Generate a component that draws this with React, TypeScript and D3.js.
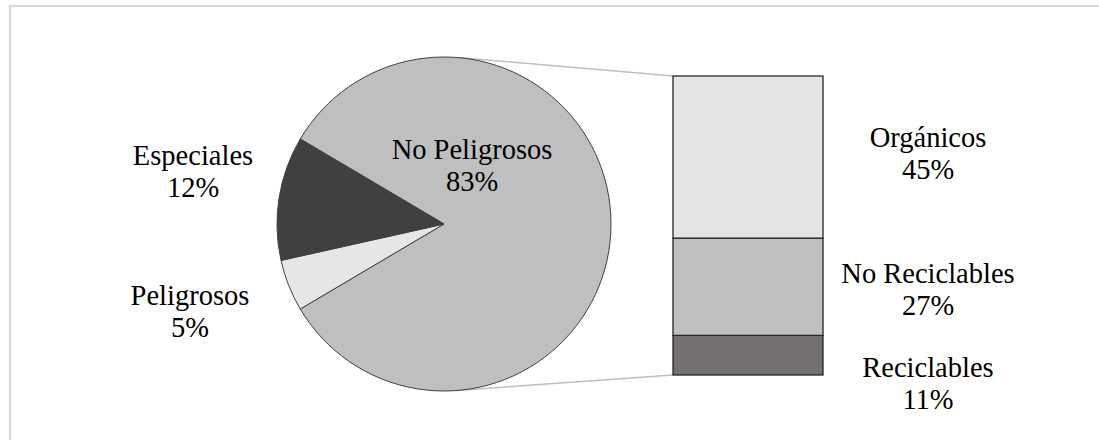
import { useEffect, useRef } from "react";
import * as d3 from "d3";

// pie: main categories (percent)
const pieLabels = ["No Peligrosos", "Peligrosos", "Especiales"];
const pieValues = [83, 5, 12];
const pieColors = ["#bfbfbf", "#e6e6e6", "#404040"];

// bar: breakdown of "No Peligrosos", bottom to top
const barLabels = ["Reciclables", "No Reciclables", "Orgánicos"];
const barValues = [11, 27, 45];
const barColors = ["#757171", "#bfbfbf", "#e4e4e4"];

const W = 1099;
const H = 440;

function App() {
  const ref = useRef<SVGSVGElement>(null);

  useEffect(() => {
    const svg = d3.select(ref.current);
    svg.selectAll("*").remove();

    const font = "Liberation Serif, Times New Roman, serif";
    const fs = 28.5;

    // frame (only top and left visible in the crop)
    svg.append("rect")
      .attr("x", 10)
      .attr("y", 6)
      .attr("width", W + 20)
      .attr("height", H + 20)
      .attr("fill", "white")
      .attr("stroke", "#d9d9d9")
      .attr("stroke-width", 2);

    const cx = 444;
    const cy = 224;
    const r = 167;

    // bar geometry
    const barX = 673;
    const barW = 150;
    const total = d3.sum(barValues);
    const y = d3.scaleLinear().domain([0, total]).range([375, 76]);

    // connector lines: tangent from bar corners to pie
    const tangent = (px: number, py: number, side: number) => {
      const dx = px - cx;
      const dy = py - cy;
      const d = Math.sqrt(dx * dx + dy * dy);
      const base = Math.atan2(dy, dx);
      const a = base + side * Math.acos(r / d);
      return [cx + r * Math.cos(a), cy + r * Math.sin(a)];
    };
    const topPt = tangent(barX, y(total), -1);
    const botPt = tangent(barX, y(0), 1);
    svg.append("line")
      .attr("x1", topPt[0]).attr("y1", topPt[1])
      .attr("x2", barX).attr("y2", y(total))
      .attr("stroke", "#bfbfbf").attr("stroke-width", 1.5);
    svg.append("line")
      .attr("x1", botPt[0]).attr("y1", botPt[1])
      .attr("x2", barX).attr("y2", y(0))
      .attr("stroke", "#bfbfbf").attr("stroke-width", 1.5);

    // pie, with the first slice centred on 3 o'clock
    const firstSpan = (pieValues[0] / d3.sum(pieValues)) * 2 * Math.PI;
    const pie = d3.pie<number>()
      .sort(null)
      .startAngle(Math.PI / 2 - firstSpan / 2)
      .endAngle(Math.PI / 2 - firstSpan / 2 + 2 * Math.PI);
    const arc = d3.arc<d3.PieArcDatum<number>>().innerRadius(0).outerRadius(r);

    const pg = svg.append("g").attr("transform", `translate(${cx},${cy})`);
    pg.selectAll("path")
      .data(pie(pieValues))
      .join("path")
      .attr("d", arc)
      .attr("fill", (d, i) => pieColors[i])
      .attr("stroke", "#404040")
      .attr("stroke-width", 1);

    // bar segments
    let acc = 0;
    const stacks = barValues.map((v) => {
      const s = { y0: acc, y1: acc + v };
      acc += v;
      return s;
    });
    svg.selectAll(".seg")
      .data(stacks)
      .join("rect")
      .attr("class", "seg")
      .attr("x", barX)
      .attr("y", (d) => y(d.y1))
      .attr("width", barW)
      .attr("height", (d) => y(d.y0) - y(d.y1))
      .attr("fill", (d, i) => barColors[i])
      .attr("stroke", "#262626")
      .attr("stroke-width", 1.3);

    const label = (x: number, yb: number, name: string, val: number) => {
      const t = svg.append("text")
        .attr("x", x)
        .attr("y", yb)
        .attr("text-anchor", "middle")
        .attr("font-family", font)
        .attr("font-size", fs)
        .attr("fill", "#000");
      t.append("tspan").attr("x", x).text(name);
      t.append("tspan").attr("x", x).attr("dy", 32).text(val + "%");
    };

    // pie labels
    label(472, 159, pieLabels[0], pieValues[0]);
    label(190, 305, pieLabels[1], pieValues[1]);
    label(193, 165, pieLabels[2], pieValues[2]);

    // bar labels, next to each segment
    const lx = barX + barW + 105;
    const offsets = [22, -4, -10];
    stacks.forEach((s, i) => {
      const mid = (y(s.y0) + y(s.y1)) / 2;
      label(lx, mid + offsets[i], barLabels[i], barValues[i]);
    });
  }, []);

  return (
    <svg
      ref={ref}
      width={W}
      height={H}
      style={{ position: "absolute", left: 0, top: 0, background: "white" }}
    />
  );
}

export default App;
